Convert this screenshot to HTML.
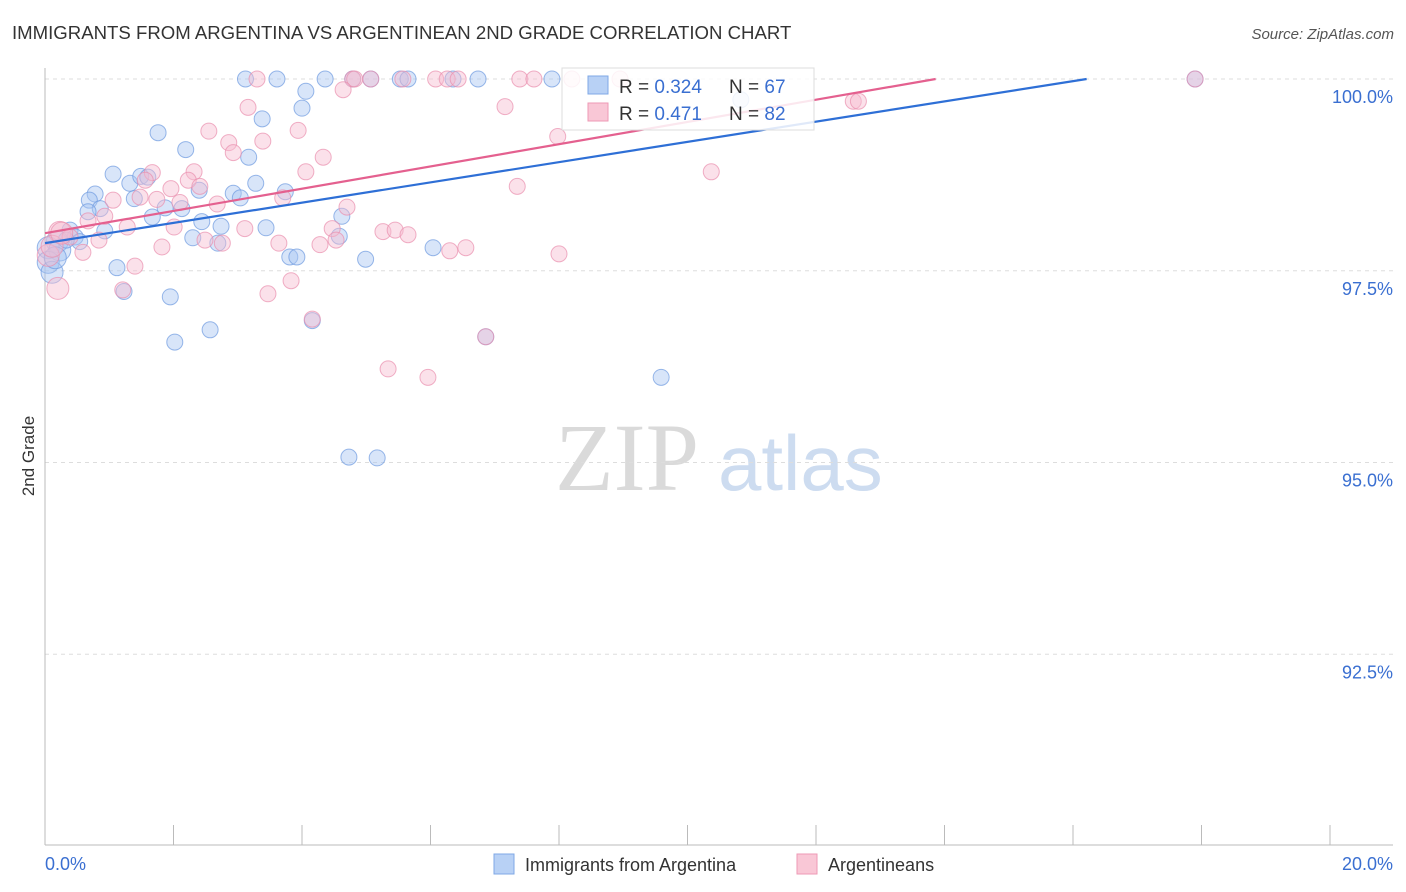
<!DOCTYPE html>
<html><head><meta charset="utf-8"><style>
body{margin:0;background:#fff;font-family:"Liberation Sans",sans-serif}
svg{display:block}
</style></head><body>
<svg id="chart" width="1406" height="892" xmlns="http://www.w3.org/2000/svg">
<text x="12" y="39" font-size="18.6" fill="#333">IMMIGRANTS FROM ARGENTINA VS ARGENTINEAN 2ND GRADE CORRELATION CHART</text>
<text x="1394" y="39" font-size="15" fill="#555" text-anchor="end" font-style="italic">Source: ZipAtlas.com</text>
<text transform="translate(34,456) rotate(-90)" font-size="17" fill="#333" text-anchor="middle">2nd Grade</text>
<g><text x="555" y="490" font-size="96" fill="#dadada" font-family="Liberation Serif,serif">ZIP</text><text x="718" y="490" font-size="78" fill="#cddcf0">atlas</text></g>
<g id="grid"></g><g id="axes"></g><g id="pts"></g><g id="lines"></g>
<g>
<rect x="562" y="68" width="252" height="62" fill="#fff" fill-opacity="0.85" stroke="#ddd"/>
<rect x="588" y="76" width="20" height="18" fill="#b8d1f5" stroke="#7fa8e6"/>
<rect x="588" y="103" width="20" height="18" fill="#f9c7d6" stroke="#ee9ab5"/>
<text x="619" y="93" font-size="19" fill="#333">R = <tspan fill="#3a6fd1">0.324</tspan></text>
<text x="729" y="93" font-size="19" fill="#333">N = <tspan fill="#3a6fd1">67</tspan></text>
<text x="619" y="120" font-size="19" fill="#333">R =  <tspan fill="#3a6fd1">0.471</tspan></text>
<text x="729" y="120" font-size="19" fill="#333">N = <tspan fill="#3a6fd1">82</tspan></text>
</g>
<g>
<rect x="494" y="854" width="20" height="20" fill="#b8d1f5" stroke="#7fa8e6"/>
<text x="525" y="871" font-size="18" fill="#333">Immigrants from Argentina</text>
<rect x="797" y="854" width="20" height="20" fill="#f9c7d6" stroke="#ee9ab5"/>
<text x="828" y="871" font-size="18" fill="#333">Argentineans</text>
</g>
</svg>
<script>
const yTicks=[100,97.5,95,92.5];
const yTickLabels=["100.0%","97.5%","95.0%","92.5%"];
const xTicks=[0,2,4,6,8,10,12,14,16,18,20];
const xEndLabels=["0.0%","20.0%"];
const blueX=[3.12,3.61,4.36,4.79,5.07,5.53,5.65,6.35,6.74,7.89,4.06,4.0,3.38,1.76,2.19,3.17,1.06,1.32,1.49,1.6,3.28,0.78,0.69,1.39,2.4,2.93,3.04,3.74,1.87,2.13,1.67,0.86,4.62,2.44,2.74,3.44,0.93,0.39,0.47,0.19,0.54,2.3,2.69,4.58,0.05,0.23,0.05,0.11,1.12,3.81,3.92,4.99,6.04,1.23,1.95,2.57,2.02,4.16,6.86,9.59,4.73,5.17,10.83,17.9,0.16,0.33,0.67];
const blueY=[100,100,100,100,100,100,100,100,100,100,99.84,99.62,99.48,99.3,99.08,98.98,98.76,98.64,98.73,98.72,98.64,98.5,98.42,98.44,98.55,98.51,98.45,98.53,98.32,98.31,98.2,98.31,98.21,98.14,98.08,98.06,98.02,98.03,97.94,97.88,97.88,97.93,97.86,97.95,97.8,97.77,97.61,97.48,97.54,97.68,97.68,97.65,97.8,97.23,97.16,96.73,96.57,96.85,96.64,96.11,95.07,95.06,99.73,100,97.67,97.9,98.27];
const pinkX=[3.3,4.79,4.82,5.07,5.57,6.08,6.26,6.43,7.39,7.61,8.2,8.95,17.9,4.64,3.16,7.16,12.58,12.66,2.55,2.86,3.94,3.39,2.93,4.33,7.98,2.32,1.67,4.06,10.37,1.56,1.96,2.23,2.41,7.35,1.06,1.48,1.74,2.68,3.7,2.1,4.7,0.67,0.93,1.28,2.01,3.11,4.47,5.26,5.45,5.65,0.23,0.39,0.84,2.49,2.76,1.82,3.64,4.28,4.53,0.59,6.3,6.55,8.0,1.4,3.83,3.47,1.21,4.16,6.86,5.34,5.96,0.2,0.05,0.11,0.26];
const pinkY=[100,100,100,100,100,100,100,100,100,100,100,100,100,99.86,99.63,99.64,99.71,99.71,99.32,99.17,99.33,99.19,99.04,98.98,99.25,98.79,98.78,98.79,98.79,98.68,98.57,98.68,98.6,98.6,98.42,98.46,98.43,98.37,98.45,98.39,98.33,98.15,98.21,98.07,98.07,98.05,98.05,98.01,98.03,97.97,98.0,97.94,97.9,97.9,97.86,97.81,97.86,97.84,97.9,97.74,97.76,97.8,97.72,97.56,97.37,97.2,97.25,96.87,96.64,96.22,96.11,97.27,97.7,97.82,97.99];
const blueLine=[97.86,0.132];
const pinkLine=[97.99,0.145];
const X=v=>45+v*64.25, Y=v=>79+(100-v)*76.7;
const NS="http://www.w3.org/2000/svg";
function mk(p,t,a){const e=document.createElementNS(NS,t);for(const k in a)e.setAttribute(k,a[k]);p.appendChild(e);return e;}
const grid=document.getElementById('grid'),axes=document.getElementById('axes');
yTicks.forEach((v,i)=>{
 const l=mk(grid,'line',{x1:45,x2:1393,y1:Y(v),y2:Y(v),stroke:'#ddd','stroke-dasharray':'4,4'});
 
 
 const t=mk(axes,'text',{x:1393,y:Y(v)+24,'font-size':18,fill:'#3a6fd1','text-anchor':'end'});
 t.textContent=yTickLabels[i];
 
 
});
mk(axes,'line',{x1:45,x2:45,y1:68,y2:845,stroke:'#bbb'});
mk(axes,'line',{x1:45,x2:1393,y1:845,y2:845,stroke:'#bbb'});
xTicks.forEach(v=>{
 const l=mk(axes,'line',{x1:X(v),x2:X(v),y1:825,y2:845,stroke:'#bbb'});
 
 
});
[[0,'start',45],[20,'end',1393]].forEach((d,i)=>{
 const t=mk(axes,'text',{x:d[2],y:870,'font-size':18,fill:'#3a6fd1','text-anchor':d[1]});
 t.textContent=xEndLabels[i];
 
 
});
const pts=document.getElementById('pts');
function draw(xs,ys,fill,stroke,name){xs.forEach((x,i)=>{
 const r=x<0.3?11:8;
 const c=mk(pts,'circle',{cx:X(x),cy:Y(ys[i]),r:r,fill:fill,'fill-opacity':0.45,stroke:stroke,'stroke-opacity':0.7});
 
 
});}
draw(blueX,blueY,'#a9c6f2','#6e9ae0','blue-point');
draw(pinkX,pinkY,'#f7bcd0','#e98fae','pink-point');
const lines=document.getElementById('lines');
function line(p,col,name){const xe=Math.min(20,(100-p[0])/p[1]);
 const l=mk(lines,'line',{x1:X(0),y1:Y(p[0]),x2:X(xe),y2:Y(p[0]+p[1]*xe),stroke:col,'stroke-width':2.2});
 
 }
line(blueLine,'#2e6fd6','blue-trendline');
line(pinkLine,'#e4608f','pink-trendline');
</script>
</body></html>
